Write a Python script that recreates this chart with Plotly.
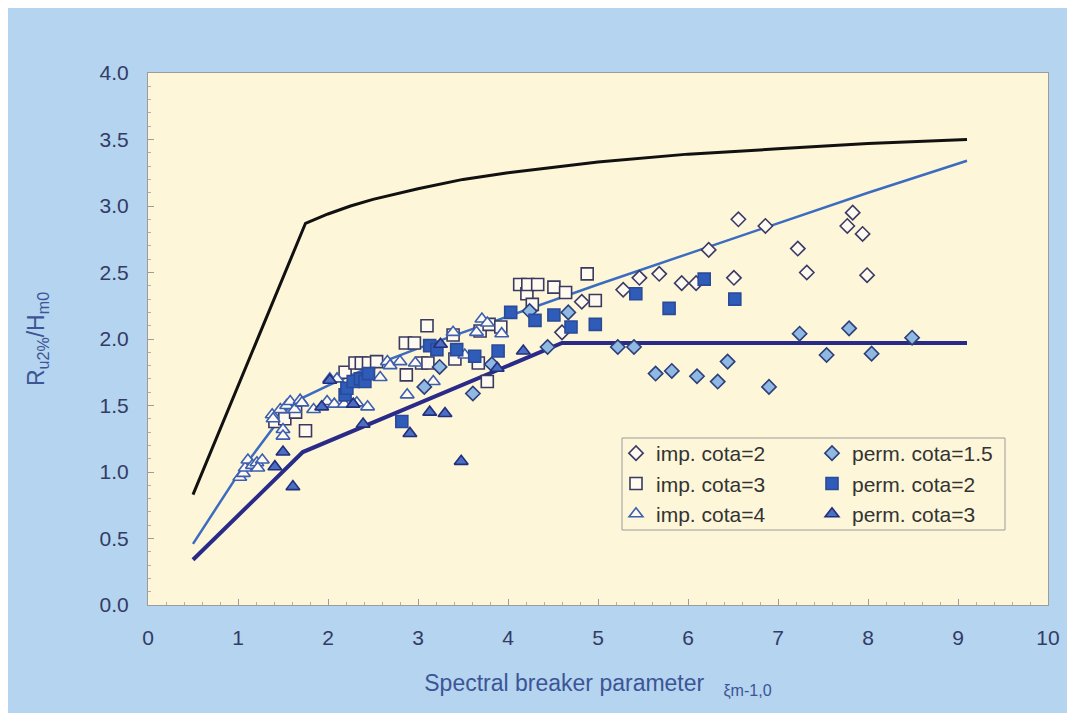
import plotly.graph_objects as go

# ---------------- data ----------------
black_x = [0.5, 1.75, 2.0, 2.25, 2.5, 3.0, 3.5, 4.0, 5.0, 6.0, 7.0, 8.0, 9.1]
black_y = [0.83, 2.87, 2.94, 3.00, 3.05, 3.13, 3.20, 3.25, 3.33, 3.39, 3.43, 3.47, 3.50]

blue_x = [0.5, 1.0, 1.6, 2.0, 2.5, 3.0, 4.0, 5.0, 6.0, 7.0, 8.0, 9.1]
blue_y = [0.46, 0.98, 1.52, 1.65, 1.80, 1.93, 2.17, 2.41, 2.64, 2.87, 3.10, 3.34]

navy_x = [0.5, 1.72, 4.6, 9.1]
navy_y = [0.34, 1.15, 1.97, 1.97]

imp2_x = [4.60, 4.82, 5.28, 5.46, 5.68, 5.93, 6.09, 6.23, 6.56, 6.51, 6.86, 7.22, 7.32, 7.83, 7.77, 7.94, 7.99]
imp2_y = [2.05, 2.28, 2.37, 2.46, 2.49, 2.42, 2.42, 2.67, 2.90, 2.46, 2.85, 2.68, 2.50, 2.95, 2.85, 2.79, 2.48]

perm15_x = [3.07, 3.24, 3.61, 3.82, 4.24, 4.44, 4.67, 5.22, 5.40, 5.64, 5.82, 6.10, 6.33, 6.44, 6.90, 7.24, 7.54, 7.79, 8.04, 8.49]
perm15_y = [1.64, 1.79, 1.59, 1.81, 2.21, 1.94, 2.20, 1.94, 1.94, 1.74, 1.76, 1.72, 1.68, 1.83, 1.64, 2.04, 1.88, 2.08, 1.89, 2.01]

imp3_x = [1.41, 1.52, 1.64, 1.75, 2.19, 2.30, 2.37, 2.45, 2.54, 2.86, 2.96, 2.87, 3.04, 3.11, 3.10,
          3.39, 3.41, 3.67, 3.69, 3.77, 3.79, 3.92, 4.13, 4.21, 4.22, 4.27, 4.33, 4.51, 4.64, 4.88, 4.97]
imp3_y = [1.38, 1.40, 1.45, 1.31, 1.75, 1.82, 1.82, 1.82, 1.83, 1.97, 1.97, 1.73, 1.82, 1.82, 2.10,
          2.03, 1.85, 1.82, 2.06, 1.68, 2.11, 2.09, 2.41, 2.34, 2.41, 2.26, 2.41, 2.39, 2.35, 2.49, 2.29]

perm2_x = [2.19, 2.21, 2.28, 2.36, 2.41, 2.45, 2.82, 3.13, 3.21, 3.43, 3.63, 3.89, 4.03, 4.30,
           4.51, 4.70, 4.97, 5.42, 5.79, 6.18, 6.52]
perm2_y = [1.58, 1.63, 1.68, 1.70, 1.68, 1.74, 1.38, 1.95, 1.92, 1.92, 1.87, 1.91, 2.20, 2.14,
           2.18, 2.09, 2.11, 2.34, 2.23, 2.45, 2.30]

imp4_x = [1.02, 1.06, 1.08, 1.11, 1.16, 1.21, 1.27, 1.22, 1.38, 1.39, 1.47, 1.50, 1.50, 1.54, 1.58,
          1.63, 1.69, 1.71, 1.84, 1.99, 2.02, 2.07, 2.10, 2.18, 2.32, 2.44, 2.58, 2.66, 2.69, 2.80,
          2.88, 2.97, 3.17, 3.39, 3.52, 3.65, 3.71, 3.77, 3.93]
imp4_y = [0.96, 0.99, 1.03, 1.09, 1.05, 1.07, 1.09, 1.03, 1.43, 1.40, 1.47, 1.32, 1.27, 1.50, 1.53,
          1.47, 1.54, 1.52, 1.47, 1.53, 1.70, 1.51, 1.70, 1.51, 1.52, 1.49, 1.71, 1.83, 1.80, 1.83,
          1.58, 1.82, 1.68, 2.05, 1.88, 2.05, 2.15, 2.12, 2.04]

perm3_x = [1.41, 1.50, 1.61, 1.93, 2.02, 2.28, 2.39, 2.91, 3.13, 3.30, 3.48, 3.88, 4.17, 3.25]
perm3_y = [1.04, 1.15, 0.89, 1.49, 1.69, 1.51, 1.36, 1.29, 1.45, 1.44, 1.08, 1.78, 1.91, 1.96]

x_ticks = [0, 1, 2, 3, 4, 5, 6, 7, 8, 9, 10]
y_ticks = [0.0, 0.5, 1.0, 1.5, 2.0, 2.5, 3.0, 3.5, 4.0]
y_tick_labels = ["0.0", "0.5", "1.0", "1.5", "2.0", "2.5", "3.0", "3.5", "4.0"]

# ---------------- styling ----------------
FONT = "Liberation Sans, Arial, sans-serif"
OUTER_BG = "#b4d4ef"
PLOT_BG = "#fdf6d8"
TICK_COL = "#333b66"
TITLE_COL = "#3d5596"
CREAM = "#fffaf0"

fig = go.Figure()

fig.add_trace(go.Scatter(x=black_x, y=black_y, mode="lines",
                         line=dict(color="#111111", width=3), showlegend=False, hoverinfo="skip"))
fig.add_trace(go.Scatter(x=blue_x, y=blue_y, mode="lines",
                         line=dict(color="#3b6cc0", width=2.5), showlegend=False, hoverinfo="skip"))
fig.add_trace(go.Scatter(x=navy_x, y=navy_y, mode="lines",
                         line=dict(color="#2a2a88", width=4), showlegend=False, hoverinfo="skip"))

def pts(x, y, name, symbol, fill, line_col, size, legend):
    fig.add_trace(go.Scatter(
        x=x, y=y, mode="markers", name=name, legend=legend,
        marker=dict(symbol=symbol, size=size, color=fill,
                    line=dict(color=line_col, width=1.6))))

pts(imp2_x, imp2_y, "imp. cota=2", "diamond", CREAM, "#3b3a66", 11, "legend")
pts(imp3_x, imp3_y, "imp. cota=3", "square", CREAM, "#3a3a60", 12, "legend")
pts(imp4_x, imp4_y, "imp. cota=4", "triangle-up", CREAM, "#3d5fb0", 12, "legend")
pts(perm15_x, perm15_y, "perm. cota=1.5", "diamond", "#8fb8e3", "#2d3f7a", 11, "legend2")
pts(perm2_x, perm2_y, "perm. cota=2", "square", "#2f5cb8", "#2a4a9a", 12, "legend2")
pts(perm3_x, perm3_y, "perm. cota=3", "triangle-up", "#4a6fc4", "#232f7a", 12, "legend2")

# plot area pixel geometry (figure coordinates; page has an 8px body margin)
OFF = 8
L, R, T, B = 148 - OFF, 1048 - OFF, 73 - OFF, 605 - OFF
W, H = 1075, 713
def px(v):
    return (v - OFF - L) / (R - L)
def py(v):
    return (B - (v - OFF)) / (B - T)

fig.add_shape(type="rect", xref="paper", yref="paper",
              x0=px(622), x1=px(1005), y0=py(530), y1=py(438),
              fillcolor=PLOT_BG, line=dict(color="#9c9c9c", width=1), layer="above")

legend_common = dict(bgcolor="rgba(0,0,0,0)", borderwidth=0,
                     font=dict(family=FONT, size=21, color="#333333"),
                     yanchor="top", xanchor="left", tracegroupgap=0,
                     itemwidth=30)

fig.update_layout(
    width=W, height=H,
    margin=dict(l=L, r=W - R, t=T, b=H - B),
    paper_bgcolor=OUTER_BG, plot_bgcolor=PLOT_BG,
    font=dict(family=FONT, color=TICK_COL),
    legend=dict(x=px(616), y=py(433), **legend_common),
    legend2=dict(x=px(812), y=py(433), **legend_common),
    xaxis=dict(range=[0, 10], tickvals=x_ticks, ticktext=[str(v) for v in x_ticks],
               ticks="inside", ticklen=6, tickcolor="#9c9c9c",
               minor=dict(dtick=0.2, ticks="inside", ticklen=3, tickcolor="#b0b0b0"),
               showgrid=False, zeroline=False, showline=True, linecolor="#9c9c9c",
               linewidth=1, mirror=True, ticklabelstandoff=14,
               tickfont=dict(size=21, color=TICK_COL, family=FONT),
               title=dict(text="Spectral breaker parameter\u00a0\u00a0\u00a0<sub>ξm-1,0</sub>",
                          font=dict(size=23, color=TITLE_COL, family=FONT), standoff=26)),
    yaxis=dict(range=[0, 4], tickvals=y_ticks, ticktext=y_tick_labels,
               ticks="inside", ticklen=6, tickcolor="#9c9c9c",
               minor=dict(dtick=0.1, ticks="inside", ticklen=3, tickcolor="#b0b0b0"),
               showgrid=False, zeroline=False, showline=True, linecolor="#9c9c9c",
               linewidth=1, mirror=True, ticklabelstandoff=14,
               tickfont=dict(size=21, color=TICK_COL, family=FONT),
               title=dict(text="R<sub>u2%</sub>/H<sub>m0</sub>",
                          font=dict(size=23, color=TITLE_COL, family=FONT), standoff=48)),
)

fig.write_html("out.html")
